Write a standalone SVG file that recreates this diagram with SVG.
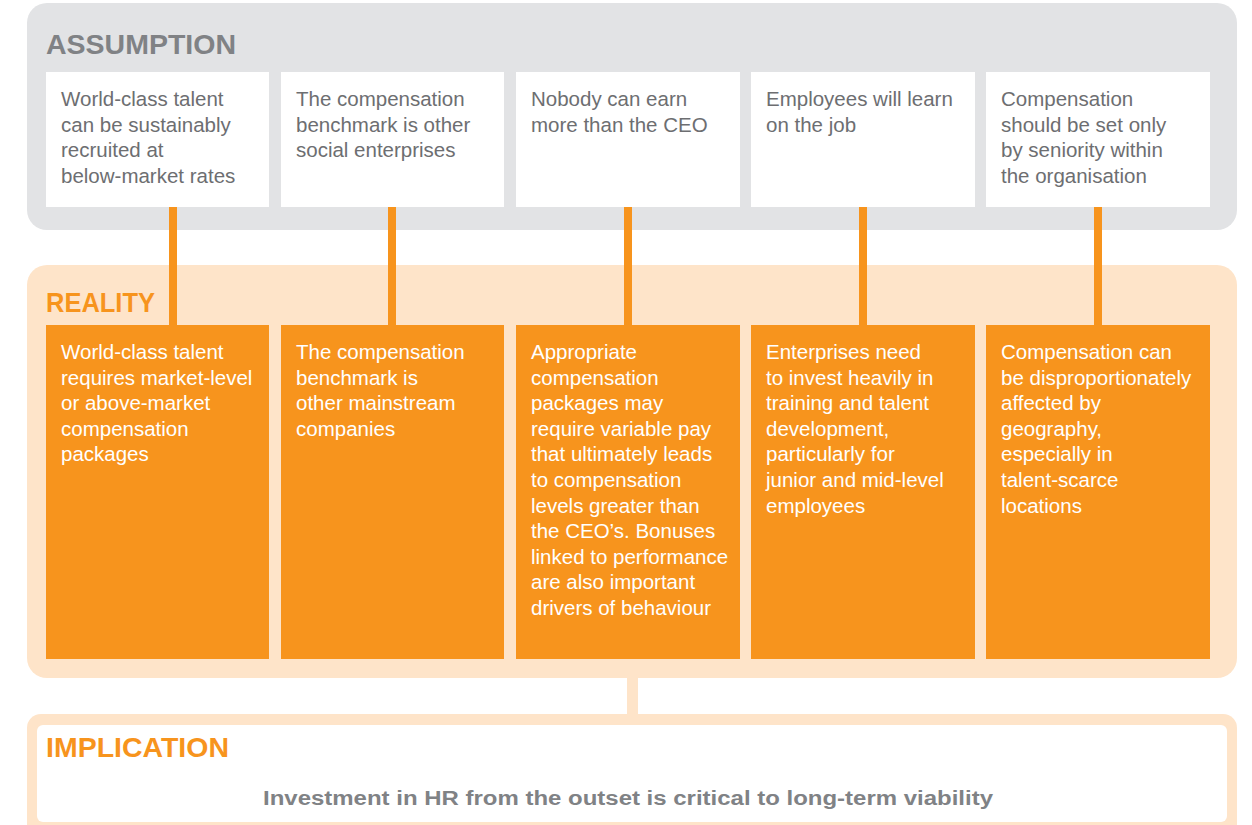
<svg xmlns="http://www.w3.org/2000/svg" width="1252" height="825" viewBox="0 0 1252 825">
<style>
.head{font-family:"Liberation Sans",Arial,sans-serif;font-weight:bold;font-size:28.5px}
.gray-h{fill:#808285}
.org-h{fill:#f7941d}
.body{font-family:"Liberation Sans",Arial,sans-serif;font-size:20.5px}
.abox{fill:#ffffff}
.rbox{fill:#f7941d}
.atext{fill:#6d6e71}
.rtext{fill:#ffffff}
.conn{stroke:#f7941d;stroke-width:8;fill:none}
.conn2{stroke:#fee4c9;stroke-width:11;fill:none}
.impl{font-family:"Liberation Sans",Arial,sans-serif;font-weight:bold;font-size:20px;fill:#808285}
</style>
<rect width="1252" height="825" fill="#ffffff"/>
<!-- panels -->
<g id="assumption-panel">
<rect x="27" y="3" width="1210" height="227" rx="20" fill="#e2e3e5"/>
<text class="head gray-h" x="46" y="54" textLength="190" lengthAdjust="spacingAndGlyphs">ASSUMPTION</text>
</g>
<g id="reality-panel">
<rect x="27" y="265" width="1210" height="413" rx="20" fill="#fee4c9"/>
<text class="head org-h" x="46" y="312" textLength="109" lengthAdjust="spacingAndGlyphs">REALITY</text>
</g>
<g id="implication-panel">
<rect x="27" y="714" width="1210" height="130" rx="14" fill="#fee4c9"/>
<rect x="37" y="725" width="1190" height="97" rx="6" fill="#ffffff"/>
<text class="head org-h" x="46" y="757" textLength="183" lengthAdjust="spacingAndGlyphs">IMPLICATION</text>
<text class="impl" x="628" y="805" text-anchor="middle" textLength="730" lengthAdjust="spacingAndGlyphs">Investment in HR from the outset is critical to long-term viability</text>
</g>
<!-- connectors -->
<g id="connectors">
<line class="conn" x1="173" y1="207" x2="173" y2="325"/>
<line class="conn" x1="392" y1="207" x2="392" y2="325"/>
<line class="conn" x1="628" y1="207" x2="628" y2="325"/>
<line class="conn" x1="863" y1="207" x2="863" y2="325"/>
<line class="conn" x1="1098" y1="207" x2="1098" y2="325"/>
<line class="conn2" x1="632.5" y1="676" x2="632.5" y2="716"/>
</g>
<!-- assumption nodes -->
<g id="a1"><rect class="abox" x="46" y="72" width="223" height="135"/>
<text class="body atext"><tspan x="61" y="106">World-class talent</tspan><tspan x="61" y="131.7">can be sustainably</tspan><tspan x="61" y="157.4">recruited at</tspan><tspan x="61" y="183.1">below-market rates</tspan></text></g>
<g id="a2"><rect class="abox" x="281" y="72" width="223" height="135"/>
<text class="body atext"><tspan x="296" y="106">The compensation</tspan><tspan x="296" y="131.7">benchmark is other</tspan><tspan x="296" y="157.4">social enterprises</tspan></text></g>
<g id="a3"><rect class="abox" x="516" y="72" width="224" height="135"/>
<text class="body atext"><tspan x="531" y="106">Nobody can earn</tspan><tspan x="531" y="131.7">more than the CEO</tspan></text></g>
<g id="a4"><rect class="abox" x="751" y="72" width="224" height="135"/>
<text class="body atext"><tspan x="766" y="106">Employees will learn</tspan><tspan x="766" y="131.7">on the job</tspan></text></g>
<g id="a5"><rect class="abox" x="986" y="72" width="224" height="135"/>
<text class="body atext"><tspan x="1001" y="106">Compensation</tspan><tspan x="1001" y="131.7">should be set only</tspan><tspan x="1001" y="157.4">by seniority within</tspan><tspan x="1001" y="183.1">the organisation</tspan></text></g>
<!-- reality nodes -->
<g id="r1"><rect class="rbox" x="46" y="325" width="223" height="334"/>
<text class="body rtext"><tspan x="61" y="359">World-class talent</tspan><tspan x="61" y="384.6">requires market-level</tspan><tspan x="61" y="410.2">or above-market</tspan><tspan x="61" y="435.8">compensation</tspan><tspan x="61" y="461.4">packages</tspan></text></g>
<g id="r2"><rect class="rbox" x="281" y="325" width="223" height="334"/>
<text class="body rtext"><tspan x="296" y="359">The compensation</tspan><tspan x="296" y="384.6">benchmark is</tspan><tspan x="296" y="410.2">other mainstream</tspan><tspan x="296" y="435.8">companies</tspan></text></g>
<g id="r3"><rect class="rbox" x="516" y="325" width="224" height="334"/>
<text class="body rtext"><tspan x="531" y="359">Appropriate</tspan><tspan x="531" y="384.6">compensation</tspan><tspan x="531" y="410.2">packages may</tspan><tspan x="531" y="435.8">require variable pay</tspan><tspan x="531" y="461.4">that ultimately leads</tspan><tspan x="531" y="487">to compensation</tspan><tspan x="531" y="512.6">levels greater than</tspan><tspan x="531" y="538.2">the CEO’s. Bonuses</tspan><tspan x="531" y="563.8">linked to performance</tspan><tspan x="531" y="589.4">are also important</tspan><tspan x="531" y="615">drivers of behaviour</tspan></text></g>
<g id="r4"><rect class="rbox" x="751" y="325" width="224" height="334"/>
<text class="body rtext"><tspan x="766" y="359">Enterprises need</tspan><tspan x="766" y="384.6">to invest heavily in</tspan><tspan x="766" y="410.2">training and talent</tspan><tspan x="766" y="435.8">development,</tspan><tspan x="766" y="461.4">particularly for</tspan><tspan x="766" y="487">junior and mid-level</tspan><tspan x="766" y="512.6">employees</tspan></text></g>
<g id="r5"><rect class="rbox" x="986" y="325" width="224" height="334"/>
<text class="body rtext"><tspan x="1001" y="359">Compensation can</tspan><tspan x="1001" y="384.6">be disproportionately</tspan><tspan x="1001" y="410.2">affected by</tspan><tspan x="1001" y="435.8">geography,</tspan><tspan x="1001" y="461.4">especially in</tspan><tspan x="1001" y="487">talent-scarce</tspan><tspan x="1001" y="512.6">locations</tspan></text></g>
</svg>
